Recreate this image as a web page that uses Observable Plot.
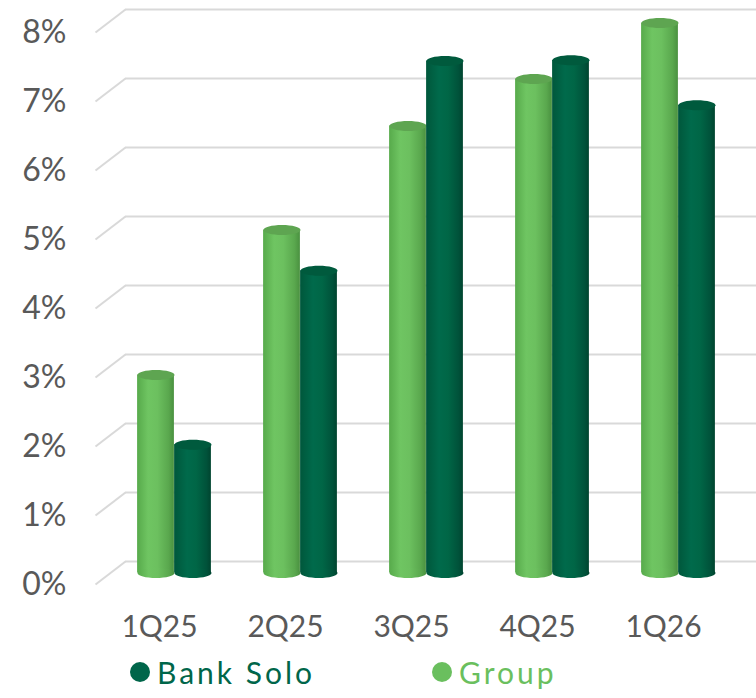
<!DOCTYPE html>
<html>
<head>
<meta charset="utf-8">
<script src="https://cdn.jsdelivr.net/npm/d3@7"></script>
<script src="https://cdn.jsdelivr.net/npm/@observablehq/plot@0.6"></script>
<style>
  html, body { margin: 0; padding: 0; background: #fff; }
  #chart { width: 756px; font-family: Lato, "Open Sans", sans-serif; }
  #legend { position: relative; height: 53px; }
  .item { position: absolute; top: 11px; display: flex; align-items: center; font-size: 30px; letter-spacing: 3px; line-height: 32px; }
  .dot { width: 20px; height: 20px; border-radius: 50%; margin-right: 7px; }
</style>
</head>
<body>
<div id="chart"></div>
<script>
const quarters = ["1Q25", "2Q25", "3Q25", "4Q25", "1Q26"];
const groupValues = [2.87, 4.97, 6.48, 7.16, 7.97];
const bankSoloValues = [1.86, 4.38, 7.42, 7.43, 6.78];
const yTicks = [0, 1, 2, 3, 4, 5, 6, 7, 8];
const seriesNames = ["Bank Solo", "Group"];
const seriesColors = ["#00664a", "#6abf5e"];

const groupData = quarters.map((q, i) => ({quarter: q, value: groupValues[i]}));
const bankData = quarters.map((q, i) => ({quarter: q, value: bankSoloValues[i]}));

// elliptical symbol for cylinder caps
const ellipse = {
  draw(ctx, size) {
    const rx = Math.sqrt(size / Math.PI), ry = rx * 0.27, k = 0.5523;
    ctx.moveTo(rx, 0);
    ctx.bezierCurveTo(rx, ry * k, rx * k, ry, 0, ry);
    ctx.bezierCurveTo(-rx * k, ry, -rx, ry * k, -rx, 0);
    ctx.bezierCurveTo(-rx, -ry * k, -rx * k, -ry, 0, -ry);
    ctx.bezierCurveTo(rx * k, -ry, rx, -ry * k, rx, 0);
    ctx.closePath();
  }
};
// receding floor/wall edge of a gridline
const diag = {
  draw(ctx, size) {
    ctx.moveTo(0, 0);
    ctx.lineTo(30, -23);
  }
};

const depthX = 15, depthY = -11.5;
const half = 18.5;

function cylinder(data, fillBody, fillTop, side) {
  const centerDx = side === "left" ? depthX - half : depthX + half;
  return [
    Plot.barY(data, {
      x: "quarter", y: "value",
      insetLeft: side === "left" ? 63.1 - 2 * half : 63.1,
      insetRight: side === "left" ? 63.1 : 63.1 - 2 * half,
      dx: depthX, dy: depthY, fill: fillBody
    }),
    Plot.dot(data, {
      x: "quarter", y: () => 0, r: half, symbol: ellipse,
      dx: centerDx, dy: depthY, fill: fillBody, stroke: "none"
    }),
    Plot.dot(data, {
      x: "quarter", y: "value", r: half, symbol: ellipse,
      dx: centerDx, dy: depthY, fill: fillTop, stroke: "none"
    })
  ];
}

const svg = Plot.plot({
  width: 756,
  height: 645,
  marginLeft: 95,
  marginRight: 30,
  marginTop: 32,
  marginBottom: 61,
  style: {fontFamily: "Lato, 'Open Sans', sans-serif", background: "#fff", overflow: "visible"},
  x: {type: "band", domain: quarters, padding: 0, label: null},
  y: {domain: [0, 8], ticks: yTicks, label: null},
  marks: [
    Plot.ruleY(yTicks, {dx: 30, dy: -23, stroke: "#d9d9d9", strokeWidth: 2}),
    Plot.dot(yTicks, {y: d => d, frameAnchor: "left", symbol: diag, r: 5, stroke: "#d9d9d9", strokeWidth: 2, fill: "none"}),
    ...cylinder(groupData, "url(#gradGroup)", "#5ea551", "left"),
    ...cylinder(bankData, "url(#gradBank)", "#005a3d", "right"),
    Plot.axisY(yTicks, {tickSize: 0, tickPadding: 29, tickFormat: d => d + "%", fontSize: 32, color: "#595959", label: null}),
    Plot.axisX({tickSize: 0, tickPadding: 31, fontSize: 30, color: "#595959", label: null})
  ]
});

const defs = d3.select(svg).insert("defs", ":first-child");
function grad(id, stops) {
  const g = defs.append("linearGradient").attr("id", id).attr("x1", "0").attr("x2", "1").attr("y1", "0").attr("y2", "0");
  stops.forEach(([o, c]) => g.append("stop").attr("offset", o).attr("stop-color", c));
}
grad("gradGroup", [[0, "#57aa4b"], [0.3, "#6fc562"], [0.55, "#6cc05f"], [0.85, "#5aa84e"], [1, "#4a9140"]]);
grad("gradBank", [[0, "#00573b"], [0.35, "#006a4b"], [0.6, "#006646"], [0.88, "#00523a"], [1, "#00442f"]]);

const chart = document.getElementById("chart");
chart.appendChild(svg);

const legend = document.createElement("div");
legend.id = "legend";
const legendLeft = [130, 432];
seriesNames.forEach((name, i) => {
  const item = document.createElement("div");
  item.className = "item";
  item.style.left = legendLeft[i] + "px";
  item.style.color = seriesColors[i];
  const dot = document.createElement("span");
  dot.className = "dot";
  dot.style.background = seriesColors[i];
  const label = document.createElement("span");
  label.textContent = name;
  item.appendChild(dot);
  item.appendChild(label);
  legend.appendChild(item);
});
chart.appendChild(legend);
</script>
</body>
</html>
